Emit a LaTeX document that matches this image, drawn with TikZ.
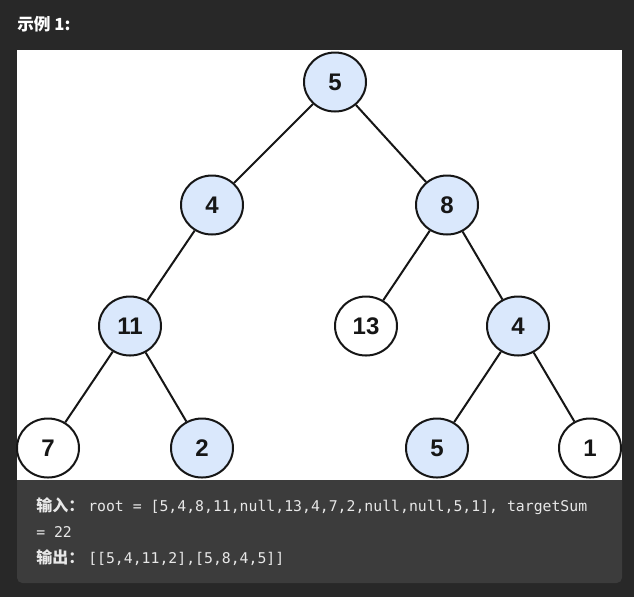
\documentclass[tikz,border=0pt]{standalone}
\usepackage{fontspec}
\setmainfont{Liberation Sans}
\setmonofont{DejaVu Sans Mono}
\newfontfamily\cjk{Noto Sans CJK SC}
\usetikzlibrary{shapes.geometric}

\definecolor{pagebg}{HTML}{282828}
\definecolor{codebg}{HTML}{3C3C3C}
\definecolor{codefg}{HTML}{E8E8E8}
\definecolor{treefill}{HTML}{DAE8FC}
\definecolor{treeline}{HTML}{161616}

\tikzset{
  treenode/.style={ellipse, draw=treeline, line width=1.5pt,
    minimum width=46.5pt, minimum height=44.25pt, inner sep=0pt,
    text=treeline, font=\fontsize{18}{18}\selectfont\bfseries},
  pathnode/.style={treenode, fill=treefill},
  plainnode/.style={treenode, fill=white},
  treeedge/.style={draw=treeline, line width=1.5pt},
  codetext/.style={anchor=base west, inner sep=0pt, text=codefg,
    font=\fontsize{11.1}{13}\ttfamily},
  cjktext/.style={anchor=base west, inner sep=0pt, text=codefg,
    font=\fontsize{12}{13}\cjk\bfseries},
}

\begin{document}
\begin{tikzpicture}[x=0.75pt, y=-0.75pt]
  \useasboundingbox (0,0) rectangle (634,597);
  \fill[pagebg] (0,0) rectangle (634,597);
  \fill[codebg, rounded corners=4pt] (17,460) rectangle (622,583);
  \fill[white] (17,50) rectangle (622,480);

  \node[cjktext, text=white, font=\fontsize{12.5}{13}\cjk\bfseries] (title) at (17,30) {示例 1:};

  % the tree
  \node[pathnode]  (n5)   at (335,82)  {5};
  \node[pathnode]  (n4)   at (212,205) {4};
  \node[pathnode]  (n8)   at (447,205) {8};
  \node[pathnode]  (n11)  at (130,326) {11};
  \node[plainnode] (n13)  at (366,326) {13};
  \node[pathnode]  (n4b)  at (518,326) {4};
  \node[plainnode] (n7)   at (48,448)  {7};
  \node[pathnode]  (n2)   at (202,448) {2};
  \node[pathnode]  (n5b)  at (437,448) {5};
  \node[plainnode] (n1)   at (590,448) {1};

  \path[treeedge] (n5) -- (n4)
                  (n5) -- (n8)
                  (n4) -- (n11)
                  (n11) -- (n7)
                  (n11) -- (n2)
                  (n8) -- (n13)
                  (n8) -- (n4b)
                  (n4b) -- (n5b)
                  (n4b) -- (n1);

  % input and output
  \node[cjktext] (inlabel)  at (36,511) {输入：};
  \node[codetext] (incode)  at (88,511) {root = [5,4,8,11,null,13,4,7,2,null,null,5,1], targetSum};
  \node[codetext] (incode2) at (36,537) {= 22};
  \node[cjktext] (outlabel) at (36,563) {输出：};
  \node[codetext] (outcode) at (88,563) {[[5,4,11,2],[5,8,4,5]]};
\end{tikzpicture}
\end{document}
